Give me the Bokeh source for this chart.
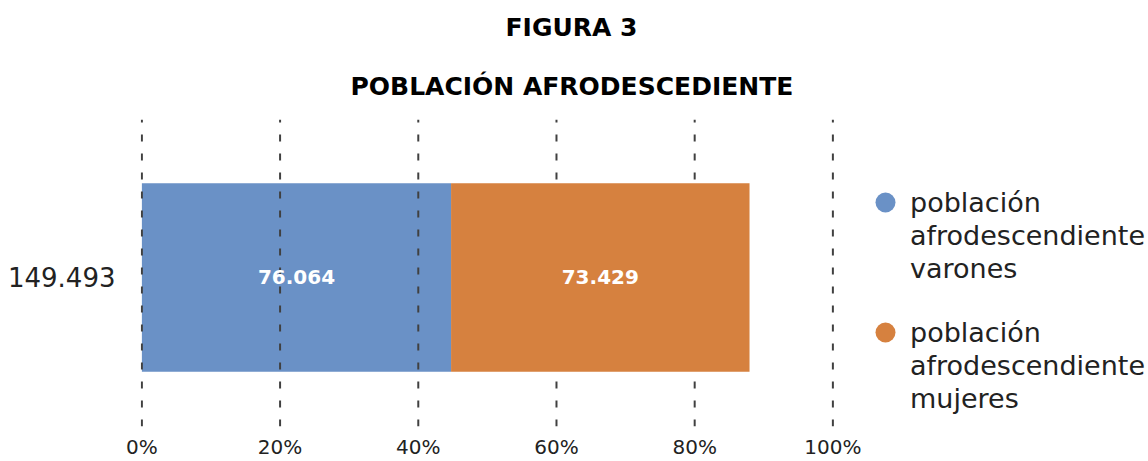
from bokeh.plotting import figure
from bokeh.models import Range1d, FixedTicker, Legend, LegendItem, Title
from bokeh.core.properties import value
from bokeh.embed import file_html
from bokeh.resources import INLINE

# ---- data ----
fig_label = "FIGURA 3"
chart_title = "POBLACIÓN AFRODESCEDIENTE"
series_names = ["población afrodescendiente varones", "población afrodescendiente mujeres"]
series_values = [76064, 73429]
series_colors = ["#6A91C6", "#D6813F"]
tick_labels = ["0%", "20%", "40%", "60%", "80%", "100%"]
AXIS_MAX = 170000

FONT = "DejaVu Sans"


def fmt(n):
    return f"{n:,}".replace(",", ".")


total = sum(series_values)
category = fmt(total)
lefts = [sum(series_values[:i]) for i in range(len(series_values))]
rights = [l + v for l, v in zip(lefts, series_values)]
mids = [(l + r) / 2 for l, r in zip(lefts, rights)]
ticks = [AXIS_MAX * i // (len(tick_labels) - 1) for i in range(len(tick_labels))]

# layout: the frame spans the whole width right of the category label; the
# 0-100% axis takes the first 691 px of it, the legend sits in the rest.
W, H = 1148, 461
FRAME_LEFT = 140
AXIS_PX = 691
pad = AXIS_MAX * 0.002
view_max = AXIS_MAX * (W - FRAME_LEFT) / AXIS_PX
Y_END = 1.03

p = figure(width=W, height=H, output_backend="svg", toolbar_location=None,
           x_range=Range1d(-pad, view_max - pad), y_range=Range1d(0, Y_END),
           min_border_left=FRAME_LEFT, min_border_right=0,
           min_border_top=0, min_border_bottom=0)
p.outline_line_color = None
p.xgrid.visible = False
p.ygrid.visible = False

p.title.text = fig_label
p.title.align = "left"
p.title.offset = 365
p.title.text_font = FONT
p.title.text_font_size = "25px"
p.title.text_font_style = "bold"
p.title.text_color = "#000000"
p.title.standoff = 20
p.add_layout(Title(text=chart_title, align="left", offset=210, text_font=FONT,
                   text_font_size="25px", text_font_style="bold", text_color="#000000",
                   standoff=37), "above")

# bars, with dashed grid lines between the first and second segment
BAR_Y = 0.5
BAR_H = 0.632
r0 = p.hbar(y=BAR_Y, left=lefts[0], right=rights[0], height=BAR_H,
            fill_color=series_colors[0], line_color=None)
p.segment(x0=ticks, y0=0, x1=ticks, y1=Y_END, line_color="#404040", line_width=2, line_dash="7 12")
r1 = p.hbar(y=BAR_Y, left=lefts[1], right=rights[1], height=BAR_H,
            fill_color=series_colors[1], line_color=None)

p.text(x=mids, y=[BAR_Y] * len(mids), text=[fmt(v) for v in series_values],
       text_align="center", text_baseline="middle", text_color="white",
       text_font=value(FONT), text_font_style="bold", text_font_size="20px")

# legends: the series name wrapped one word per line; the first line carries
# the coloured circle (the points themselves are never shown)
nan = float("nan")
LEG_X = 720
legend_y = [(199, 141), (69, 11)]      # (first line, other lines) offsets in px
for name, color, (ya, yb) in zip(series_names, series_colors, legend_y):
    words = name.split(" ")
    r = p.scatter(x=[nan], y=[nan], marker="circle", size=20, fill_color=color, line_color=None)
    hidden = p.scatter(x=[nan], y=[nan], marker="circle", size=20, fill_alpha=0, line_alpha=0)
    common = dict(border_line_color=None, background_fill_alpha=0, padding=0, margin=0,
                  label_standoff=0, spacing=0, glyph_width=50,
                  label_text_font=FONT, label_text_font_size="27px",
                  label_text_color="#222222")
    la = Legend(items=[LegendItem(label=words[0], renderers=[r])],
                location=(LEG_X, ya), glyph_height=50, **common)
    lb = Legend(items=[LegendItem(label=w, renderers=[hidden]) for w in words[1:]],
                location=(LEG_X, yb), glyph_height=33, **common)
    p.add_layout(la, "center")
    p.add_layout(lb, "center")

# axes
p.xaxis.ticker = FixedTicker(ticks=ticks)
p.xaxis.major_label_overrides = {t: l for t, l in zip(ticks, tick_labels)}
p.yaxis.ticker = FixedTicker(ticks=[BAR_Y])
p.yaxis.major_label_overrides = {BAR_Y: category}
for ax in (p.xaxis[0], p.yaxis[0]):
    ax.axis_line_color = None
    ax.major_tick_line_color = None
    ax.minor_tick_line_color = None
    ax.major_tick_out = 0
    ax.major_tick_in = 0
    ax.minor_tick_out = 0
    ax.minor_tick_in = 0
    ax.axis_label_standoff = 0
    ax.major_label_text_font = FONT
    ax.major_label_text_color = "#222222"
p.xaxis.major_label_text_font_size = "20px"
p.xaxis.major_label_standoff = 8
p.yaxis.major_label_text_font_size = "26px"
p.yaxis.major_label_standoff = 25
p.yaxis.major_label_text_baseline = "top"

open("out.html", "w").write(file_html(p, INLINE))
